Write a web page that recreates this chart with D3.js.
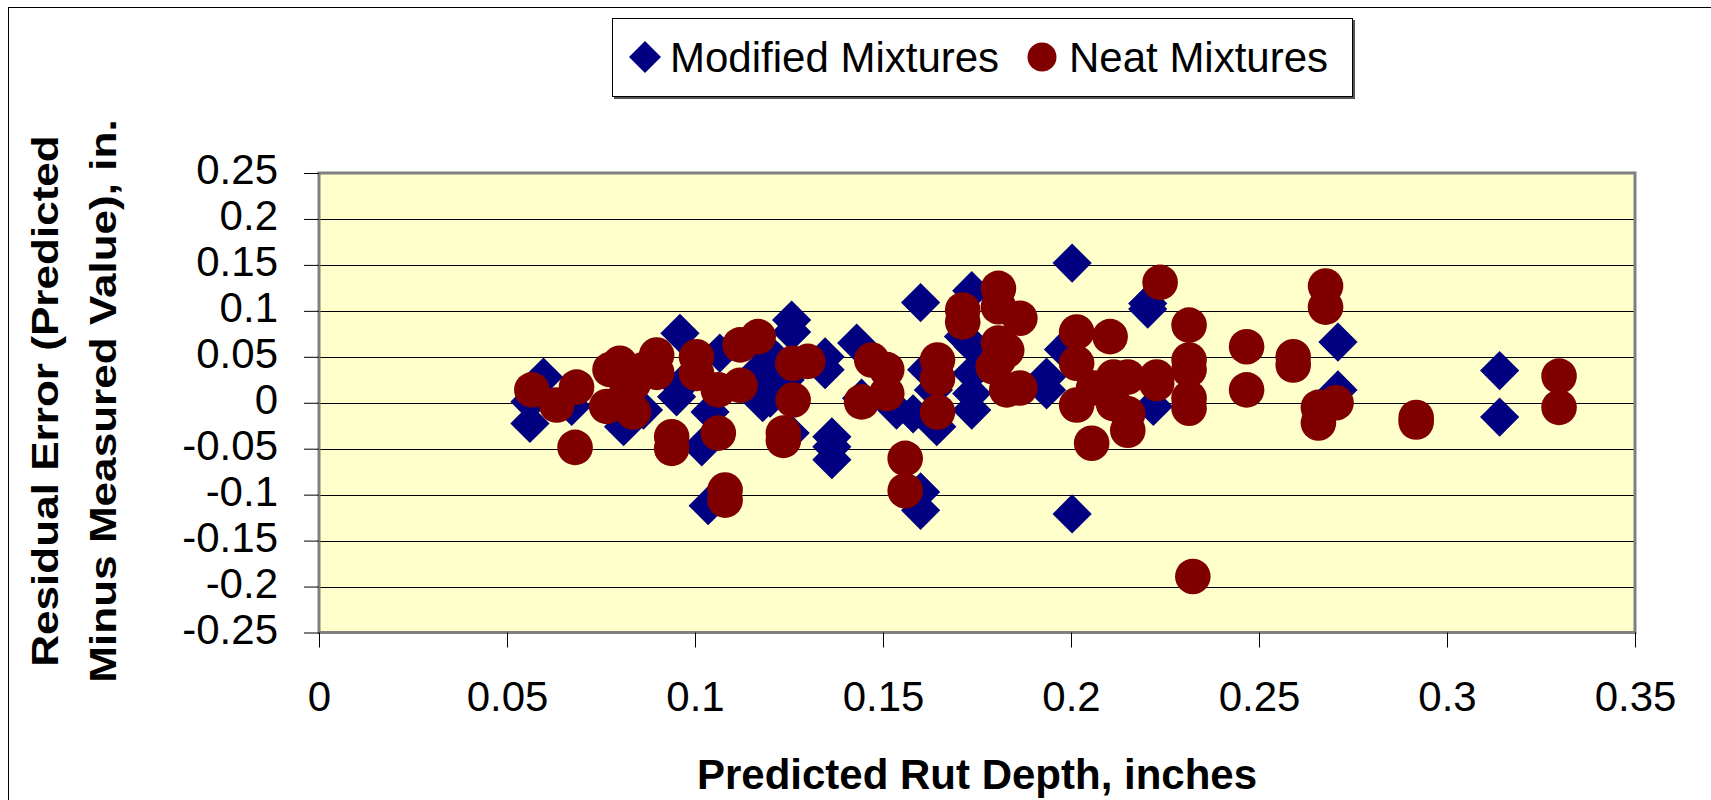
<!DOCTYPE html>
<html>
<head>
<meta charset="utf-8">
<script src="https://cdn.jsdelivr.net/npm/d3@7"></script>
<style>
  body { margin: 0; background: #fff; }
  svg { display: block; font-family: "Liberation Sans", Arial, sans-serif; }
</style>
</head>
<body>
<svg id="chart" width="1711" height="800"></svg>
<script>
// ---------------------------------------------------------------------------
// Data
// ---------------------------------------------------------------------------
const seriesNames = ['Modified Mixtures', 'Neat Mixtures'];

const xTicks = [0, 0.05, 0.1, 0.15, 0.2, 0.25, 0.3, 0.35];
const xTickLabels = ['0', '0.05', '0.1', '0.15', '0.2', '0.25', '0.3', '0.35'];
const yTicks = [0.25, 0.2, 0.15, 0.1, 0.05, 0, -0.05, -0.1, -0.15, -0.2, -0.25];
const yTickLabels = ['0.25', '0.2', '0.15', '0.1', '0.05', '0', '-0.05', '-0.1', '-0.15', '-0.2', '-0.25'];

// [predicted rut depth, residual error]
const modified = [
  [0.0597, 0.028], [0.0561, 0.001], [0.0561, -0.0225], [0.0672, -0.004],
  [0.081, -0.026], [0.0863, -0.008], [0.096, 0.0755], [0.0951, 0.0065],
  [0.096, 0.018], [0.1018, -0.048], [0.104, -0.010], [0.1066, 0.054],
  [0.1035, -0.112], [0.1257, 0.090], [0.1257, 0.077], [0.1346, 0.050],
  [0.1346, 0.036], [0.1364, -0.037], [0.1364, -0.048], [0.1364, -0.062],
  [0.1253, -0.033], [0.117, 0.035], [0.119, 0.020], [0.120, 0.005],
  [0.122, 0.045], [0.116, 0.010], [0.124, 0.025], [0.118, 0.000],
  [0.1195, 0.055], [0.143, 0.065], [0.1443, 0.005], [0.1536, -0.008],
  [0.158, -0.012], [0.160, 0.109], [0.1616, 0.036], [0.1634, 0.014],
  [0.1643, -0.026], [0.160, -0.097], [0.160, -0.117], [0.1736, 0.122],
  [0.1714, 0.072], [0.174, 0.061], [0.1736, 0.032], [0.1736, 0.010],
  [0.1736, -0.008], [0.1935, 0.028], [0.1935, 0.014], [0.198, 0.058],
  [0.2003, 0.152], [0.2003, -0.121], [0.2204, 0.108], [0.2204, 0.102],
  [0.2219, -0.004], [0.271, 0.066], [0.271, 0.014], [0.314, 0.035],
  [0.314, -0.0156]
];

const neat = [
  [0.0566, 0.014], [0.0632, -0.0025], [0.0685, 0.017], [0.0681, -0.0486],
  [0.0774, 0.036], [0.080, 0.043], [0.0765, -0.004], [0.0836, -0.010],
  [0.0818, 0.010], [0.0836, 0.021], [0.0863, 0.036], [0.0898, 0.052],
  [0.0898, 0.033], [0.1004, 0.050], [0.1004, 0.032], [0.0938, -0.037],
  [0.0938, -0.0496], [0.1062, 0.014], [0.1062, -0.033], [0.112, 0.019],
  [0.112, 0.063], [0.1168, 0.072], [0.126, 0.043], [0.130, 0.045],
  [0.1261, 0.003], [0.1235, -0.033], [0.1235, -0.041], [0.108, -0.095],
  [0.108, -0.106], [0.147, 0.0465], [0.151, 0.036], [0.1443, 0.001],
  [0.151, 0.010], [0.1645, 0.0465], [0.1645, 0.0265], [0.1645, -0.010],
  [0.1559, -0.0605], [0.1559, -0.0957], [0.1712, 0.101], [0.1712, 0.088],
  [0.1807, 0.1245], [0.1807, 0.1045], [0.1864, 0.092], [0.1807, 0.065],
  [0.1829, 0.057], [0.1793, 0.039], [0.1807, 0.047], [0.1864, 0.016],
  [0.1829, 0.014], [0.2015, 0.077], [0.2015, 0.043], [0.2015, -0.0025],
  [0.2055, -0.044], [0.206, 0.016], [0.2104, 0.072], [0.2113, 0.028],
  [0.2113, -0.001], [0.2151, 0.028], [0.2151, -0.012], [0.2151, -0.030],
  [0.2228, 0.028], [0.2228, 0.021], [0.2237, 0.131], [0.2314, 0.0845],
  [0.2314, 0.0465], [0.2314, 0.036], [0.2314, 0.005], [0.2314, -0.006],
  [0.2324, -0.189], [0.2467, 0.061], [0.2467, 0.014], [0.2591, 0.050],
  [0.2591, 0.041], [0.2677, 0.127], [0.2677, 0.104], [0.2705, 0.000],
  [0.2658, -0.005], [0.2658, -0.022], [0.2918, -0.016], [0.2918, -0.021],
  [0.3298, 0.029], [0.3298, -0.005]
];

// ---------------------------------------------------------------------------
// Layout
// ---------------------------------------------------------------------------
const plot = { left: 319, right: 1635, top: 173, bottom: 632.5 };
const navy = '#000080';
const maroon = '#800000';
const font = 42;

const svg = d3.select('#chart');

const x = d3.scaleLinear().domain([0, 0.35]).range([plot.left, plot.right]);
const y = d3.scaleLinear().domain([-0.25, 0.25]).range([plot.bottom, plot.top]);

// outer chart border (right/bottom fall off the picture)
svg.append('rect')
  .attr('x', 8.5).attr('y', 7.5)
  .attr('width', 1720).attr('height', 810)
  .attr('fill', '#fff')
  .attr('stroke', '#000').attr('stroke-width', 1);

// plot area background
svg.append('rect')
  .attr('x', plot.left).attr('y', plot.top)
  .attr('width', plot.right - plot.left)
  .attr('height', plot.bottom - plot.top)
  .attr('fill', '#FFFFCC');

// horizontal gridlines
svg.append('g')
  .selectAll('line')
  .data(yTicks)
  .join('line')
  .attr('x1', plot.left).attr('x2', plot.right)
  .attr('y1', d => Math.round(y(d)) + 0.5)
  .attr('y2', d => Math.round(y(d)) + 0.5)
  .attr('stroke', '#000').attr('stroke-width', 1);

// frame
svg.append('rect')
  .attr('x', plot.left).attr('y', plot.top)
  .attr('width', plot.right - plot.left)
  .attr('height', plot.bottom - plot.top)
  .attr('fill', 'none')
  .attr('stroke', '#808080').attr('stroke-width', 3);

// axes
const yAxis = d3.axisLeft(y)
  .tickValues(yTicks)
  .tickSize(15)
  .tickPadding(26)
  .tickFormat((d, i) => yTickLabels[i]);

const xAxis = d3.axisBottom(x)
  .tickValues(xTicks)
  .tickSize(15)
  .tickPadding(34)
  .tickFormat((d, i) => xTickLabels[i]);

const gy = svg.append('g')
  .attr('transform', `translate(${plot.left},0)`)
  .call(yAxis);
const gx = svg.append('g')
  .attr('transform', `translate(0,${plot.bottom})`)
  .call(xAxis);

[gx, gy].forEach(g => {
  g.select('.domain').remove();
  g.selectAll('.tick line').attr('stroke', '#000');
  g.selectAll('.tick text')
    .attr('fill', '#000')
    .style('font-family', '"Liberation Sans", Arial, sans-serif')
    .style('font-size', font + 'px');
});
gy.selectAll('.tick text').attr('dy', '0.25em');

// ---------------------------------------------------------------------------
// Markers
// ---------------------------------------------------------------------------
const diamond = d3.symbol(d3.symbolSquare, 770)();
const circle = d3.symbol(d3.symbolCircle, Math.PI * 17.8 * 17.8)();

svg.append('g')
  .selectAll('path')
  .data(modified)
  .join('path')
  .attr('d', diamond)
  .attr('transform', d => `translate(${x(d[0])},${y(d[1])}) rotate(45)`)
  .attr('fill', navy);

svg.append('g')
  .selectAll('path')
  .data(neat)
  .join('path')
  .attr('d', circle)
  .attr('transform', d => `translate(${x(d[0])},${y(d[1])})`)
  .attr('fill', maroon);

// ---------------------------------------------------------------------------
// Titles
// ---------------------------------------------------------------------------
svg.append('text')
  .attr('x', (plot.left + plot.right) / 2)
  .attr('y', 789)
  .attr('text-anchor', 'middle')
  .style('font-size', font + 'px')
  .style('font-weight', 'bold')
  .text('Predicted Rut Depth, inches');

const yTitle = ['Residual Error (Predicted', 'Minus Measured Value), in.'];
svg.append('g')
  .selectAll('text')
  .data(yTitle)
  .join('text')
  .attr('transform', (d, i) => `translate(${i === 0 ? 58 : 116},401) rotate(-90) scale(1.05,0.88)`)
  .attr('text-anchor', 'middle')
  .style('font-size', font + 'px')
  .style('font-weight', 'bold')
  .text(d => d);

// ---------------------------------------------------------------------------
// Legend
// ---------------------------------------------------------------------------
const legend = svg.append('g');
legend.append('rect')
  .attr('x', 614).attr('y', 20)
  .attr('width', 741).attr('height', 79)
  .attr('fill', '#555');
legend.append('rect')
  .attr('x', 612.5).attr('y', 18.5)
  .attr('width', 740).attr('height', 78)
  .attr('fill', '#fff')
  .attr('stroke', '#000').attr('stroke-width', 1);

const legendItems = [
  { name: seriesNames[0], cx: 645, tx: 670, shape: d3.symbol(d3.symbolSquare, 512)(), rot: 45, color: navy },
  { name: seriesNames[1], cx: 1042, tx: 1069, shape: d3.symbol(d3.symbolCircle, Math.PI * 14.5 * 14.5)(), rot: 0, color: maroon }
];
legendItems.forEach(it => {
  legend.append('path')
    .attr('d', it.shape)
    .attr('transform', `translate(${it.cx},57) rotate(${it.rot})`)
    .attr('fill', it.color);
  legend.append('text')
    .attr('x', it.tx).attr('y', 72)
    .style('font-size', font + 'px')
    .text(it.name);
});
</script>
</body>
</html>
